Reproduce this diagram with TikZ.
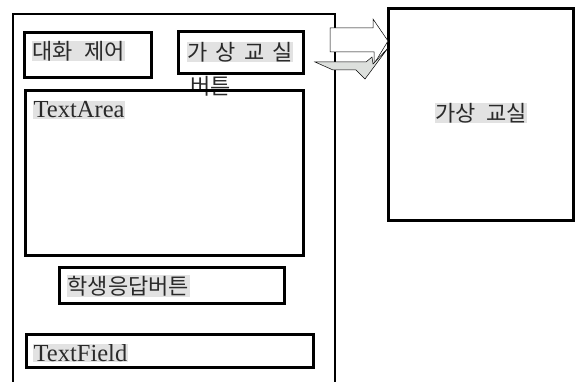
\documentclass[tikz,border=0pt]{standalone}
\usepackage{fontspec}
\setmainfont{Liberation Serif}
\newfontfamily\kr{Noto Sans CJK KR}
\definecolor{hl}{HTML}{E2E2E2}
\definecolor{txt}{HTML}{2A2A2A}
\definecolor{arrgray}{HTML}{DDE0DD}
\begin{document}
\begin{tikzpicture}[x=1pt,y=-1pt,
  box/.style={draw=black,line width=3pt,rectangle,inner sep=0pt},
  krlbl/.style={fill=hl,text=txt,inner sep=0.5pt,font=\kr\fontsize{22}{24}\selectfont},
  enlbl/.style={fill=hl,text=txt,inner sep=0.5pt,font=\fontsize{24.5}{27}\selectfont},
  blockarrow/.style={draw=black,line width=0.5pt,line join=miter}]
\useasboundingbox (0,0) rectangle (575,382);
% outer frame
\coordinate (fbl) at (13,382);
\coordinate (ftl) at (13,14);
\coordinate (ftr) at (335,14);
\coordinate (fbr) at (335,382);
\draw[line width=2.8pt] (fbl) -- (ftl) -- (ftr) -- (fbr);
% boxes
\node[box,minimum width=127pt,minimum height=45pt] (chat) at (87.5,55.5) {};
\node[box,minimum width=125pt,minimum height=42pt] (vbtn) at (240.5,53) {};
\node[fill=white,text=txt,inner sep=0.5pt,font=\kr\fontsize{22}{24}\selectfont,anchor=west] (vbtnl2) at (190,86) {버튼};
\node[box,minimum width=278pt,minimum height=164pt] (tarea) at (164,173) {};
\node[box,minimum width=225pt,minimum height=36pt] (resp) at (171.5,285) {};
\node[box,minimum width=287pt,minimum height=33pt] (tfield) at (169.5,350.5) {};
\node[box,minimum width=185pt,minimum height=211pt] (vroom) at (480.5,114.5) {};
% labels
\node[krlbl,anchor=west] (chatl) at (32,51) {대화\hspace{11pt}제어};
\node[krlbl,anchor=west] (vbtnl) at (187,52) {가\hspace{8pt}상\hspace{8pt}교\hspace{8pt}실};
\node[enlbl,anchor=west] (tareal) at (33,110) {TextArea};
\node[krlbl,anchor=west] (respl) at (67,286) {학생응답버튼};
\node[enlbl,anchor=west] (tfieldl) at (33,353) {TextField\ };
\node[krlbl] (vrooml) at (481,113) {가상\hspace{11pt}교실};
% block arrows
\coordinate (w1) at (330,28);
\coordinate (w2) at (373,28);
\coordinate (w3) at (373,19);
\coordinate (w4) at (388,41);
\coordinate (w5) at (374,64);
\coordinate (w6) at (374,52);
\coordinate (w7) at (330,52);
\draw[blockarrow,fill=white] (w1) -- (w2) -- (w3) -- (w4) -- (w5) -- (w6) -- (w7) -- cycle;
\coordinate (g1) at (315,62);
\coordinate (g2) at (366,62);
\coordinate (g3) at (372,57);
\coordinate (g4) at (373,64);
\coordinate (g5) at (388,48);
\coordinate (g6) at (365,79);
\coordinate (g7) at (356,70);
\coordinate (g8) at (333,70);
\draw[blockarrow,fill=arrgray] (g1) -- (g2) -- (g3) -- (g4) -- (g5) -- (g6) -- (g7) -- (g8) -- cycle;
\end{tikzpicture}
\end{document}
